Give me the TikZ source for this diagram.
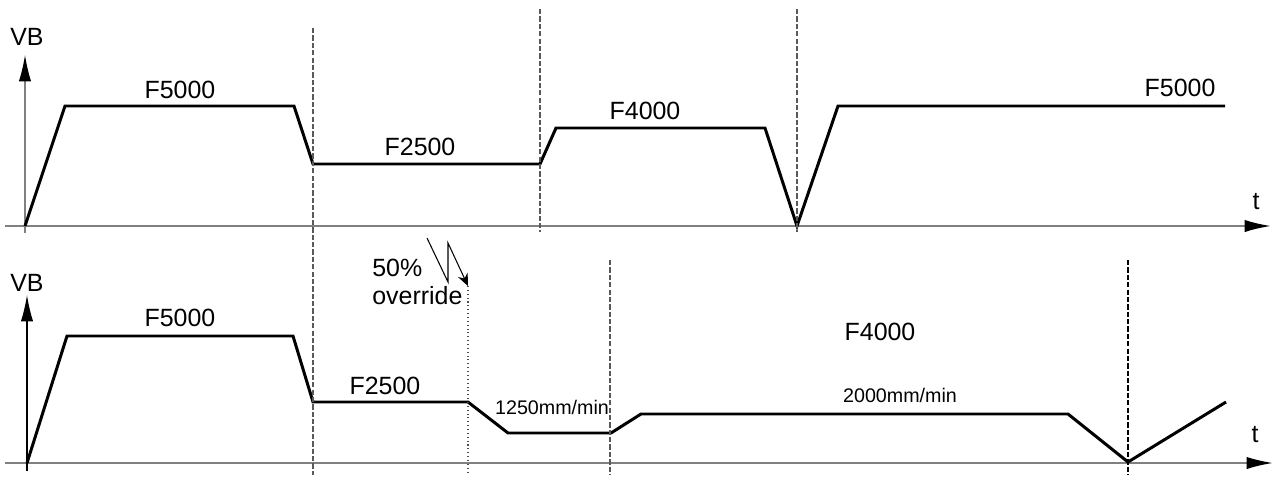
\documentclass[tikz,border=0pt]{standalone}
\usepackage{fontspec}
\setmainfont{Liberation Sans}
\usetikzlibrary{arrows.meta}
\tikzset{
  axis/.style={draw=black!50, line width=1.1pt},
  axhead/.style={-{Latex[length=15pt,width=7pt,color=black]}},
  profile/.style={line width=1.7pt},
  cut/.style={draw=black!65, line width=0.6pt, dash pattern=on 3pt off 1.2pt},
  lbl/.style={inner sep=0pt, font=\fontsize{14.2}{16}\selectfont},
  small/.style={inner sep=0pt, font=\fontsize{11.2}{13}\selectfont}
}
\begin{document}
\begin{tikzpicture}[x=0.02cm,y=-0.02cm]
\useasboundingbox (0,0) rectangle (1274,480);
%the upper profile
    %the axes
    \coordinate (x1s) at (5,226);
    \coordinate (x1e) at (1271,226);
    \coordinate (y1s) at (25,233);
    \coordinate (y1e) at (25,55);
    \draw[axis,axhead] (x1s) -- (x1e);
    \draw[axis,line width=0.7pt,axhead] (y1s) -- (y1e);
    \node[lbl] (vb1) at (27,37) {VB};
    \node[lbl] (t1) at (1256,202) {t};

    %the corner points
    \coordinate (a0) at (25,226);
    \coordinate (a1) at (65,106);
    \coordinate (a2) at (294,106);
    \coordinate (a3) at (313,164);
    \coordinate (a4) at (540,164);
    \coordinate (a5) at (556,128);
    \coordinate (a6) at (765,128);
    \coordinate (a7) at (797,226);
    \coordinate (a8) at (838,106);
    \coordinate (a9) at (1225,106);
    \draw[profile] (a0) -- (a1) -- (a2) -- (a3) -- (a4) -- (a5)
                   -- (a6) -- (a7) -- (a8) -- (a9);

    %the feeds
    \node[lbl] (f1) at (180,90) {F5000};
    \node[lbl] (f2) at (420,147) {F2500};
    \node[lbl] (f3) at (645,111) {F4000};
    \node[lbl] (f4) at (1180,88) {F5000};

%the lower profile
    %the axes
    \coordinate (x2s) at (5,463);
    \coordinate (x2e) at (1273,463);
    \coordinate (y2s) at (27,471);
    \coordinate (y2e) at (27,295);
    \draw[axis,axhead] (x2s) -- (x2e);
    \draw[axis,draw=black,line width=0.7pt,axhead] (y2s) -- (y2e);
    \node[lbl] (vb2) at (27,283) {VB};
    \node[lbl] (t2) at (1255,435) {t};

    %the corner points
    \coordinate (b0) at (27,463);
    \coordinate (b1) at (67,336);
    \coordinate (b2) at (293,336);
    \coordinate (b3) at (313,402);
    \coordinate (b4) at (468,402);
    \coordinate (b5) at (508,433);
    \coordinate (b6) at (611,433);
    \coordinate (b7) at (641,414);
    \coordinate (b8) at (1068,414);
    \coordinate (b9) at (1128,462);
    \coordinate (b10) at (1226,402);
    \draw[profile] (b0) -- (b1) -- (b2) -- (b3) -- (b4) -- (b5)
                   -- (b6) -- (b7) -- (b8) -- (b9) -- (b10);

    %the feeds
    \node[lbl] (g1) at (180,318) {F5000};
    \node[lbl] (g2) at (385,386) {F2500};
    \node[lbl] (g3) at (880,332) {F4000};
    \node[small] (v1) at (552,407) {1250mm/min};
    \node[small] (v2) at (900,395) {2000mm/min};

%the block boundaries
    \coordinate (c1t) at (313,28);
    \coordinate (c1b) at (313,475);
    \coordinate (c2t) at (540,9);
    \coordinate (c2b) at (540,232);
    \coordinate (c3t) at (797,9);
    \coordinate (c3b) at (797,232);
    \coordinate (c4t) at (610,260);
    \coordinate (c4b) at (610,475);
    \coordinate (c5t) at (1128,260);
    \coordinate (c5b) at (1128,475);
    \draw[cut] (c1t) -- (c1b);
    \draw[cut] (c2t) -- (c2b);
    \draw[cut] (c3t) -- (c3b);
    \draw[cut] (c4t) -- (c4b);
    \draw[cut,draw=black] (c5t) -- (c5b);

%the override
    \coordinate (z1) at (427,238);
    \coordinate (z2) at (448,282);
    \coordinate (z3) at (448,243);
    \coordinate (z4) at (468,286);
    \coordinate (o2) at (468,475);
    \draw[black!70, line width=0.6pt, dash pattern=on 0.6pt off 1.6pt] (z4) -- (o2);
    \draw[line width=0.6pt,-{Stealth[length=7pt,width=6pt]}] (z1) -- (z2) -- (z3) -- (z4);
    \node[lbl, align=left, anchor=north west] (ov) at (372,259) {50\%\\override};
\end{tikzpicture}
\end{document}
